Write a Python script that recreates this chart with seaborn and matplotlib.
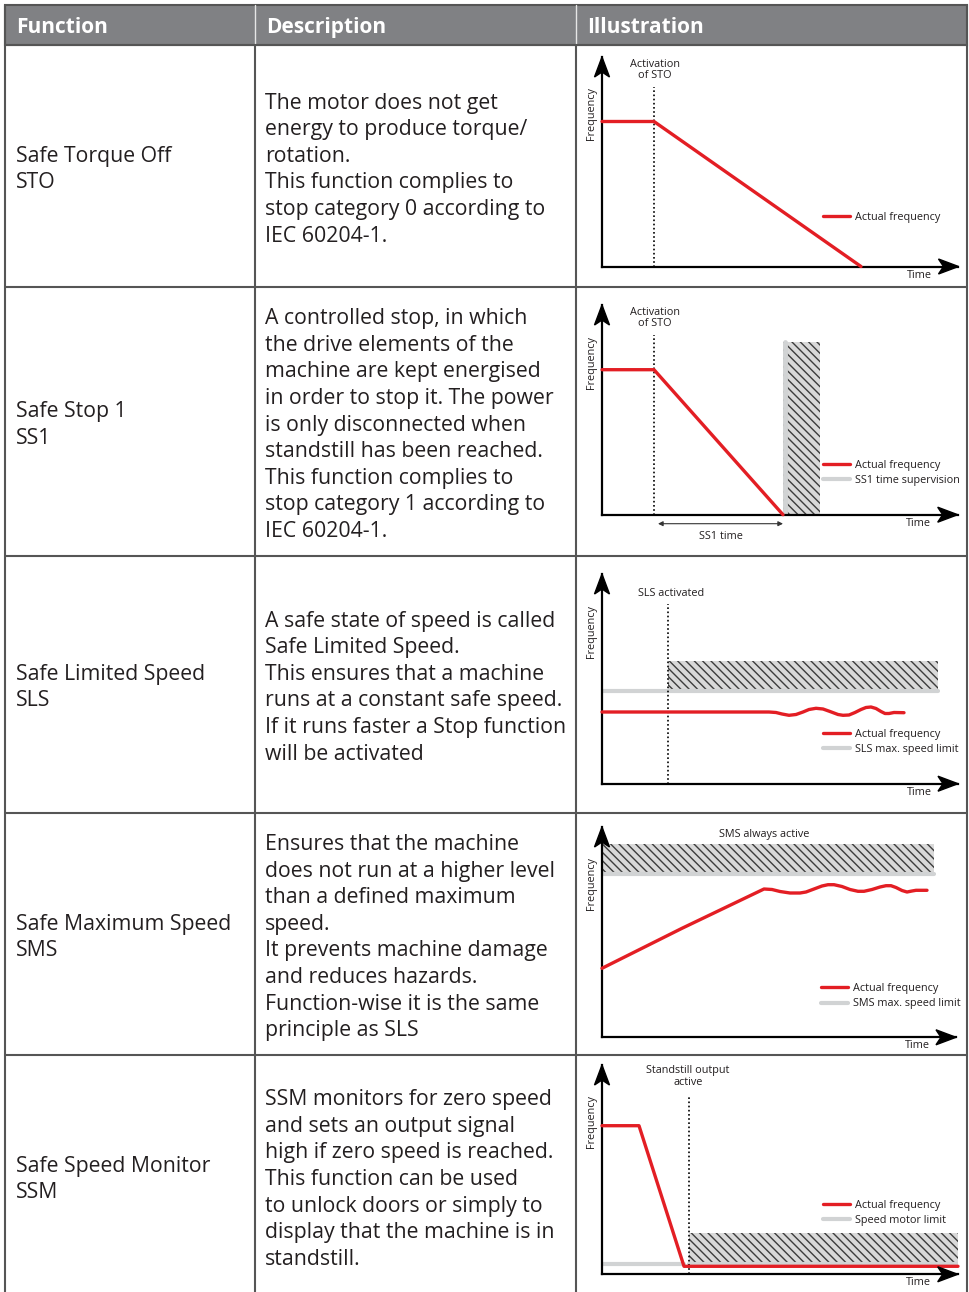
import matplotlib
matplotlib.use("Agg")
import matplotlib.pyplot as plt
import matplotlib.patches as mpatches
from matplotlib.lines import Line2D
import seaborn as sns

sns.set_theme(style="white")
plt.rcParams["font.family"] = ["Open Sans", "DejaVu Sans"]
plt.rcParams["hatch.linewidth"] = 1.0

# ---- table content ----
headers = ["Function", "Description", "Illustration"]
functions = [
    "Safe Torque Off\nSTO",
    "Safe Stop 1\nSS1",
    "Safe Limited Speed\nSLS",
    "Safe Maximum Speed\nSMS",
    "Safe Speed Monitor\nSSM",
]
descriptions = [
    "The motor does not get\nenergy to produce torque/\nrotation.\nThis function complies to\n"
    "stop category 0 according to\nIEC 60204-1.",
    "A controlled stop, in which\nthe drive elements of the\nmachine are kept energised\n"
    "in order to stop it. The power\nis only disconnected when\nstandstill has been reached.\n"
    "This function complies to\nstop category 1 according to\nIEC 60204-1.",
    "A safe state of speed is called\nSafe Limited Speed.\nThis ensures that a machine\n"
    "runs at a constant safe speed.\nIf it runs faster a Stop function\nwill be activated",
    "Ensures that the machine\ndoes not run at a higher level\nthan a defined maximum\nspeed.\n"
    "It prevents machine damage\nand reduces hazards.\nFunction-wise it is the same\nprinciple as SLS",
    "SSM monitors for zero speed\nand sets an output signal\nhigh if zero speed is reached.\n"
    "This function can be used\nto unlock doors or simply to\ndisplay that the machine is in\nstandstill.",
]

# ---- illustration data (time / frequency, arbitrary units) ----
sto_t = [0, 52, 259]
sto_f = [145, 145, 0]
sto_activation = 52

ss1_t = [0, 52, 181]
ss1_f = [145, 145, 0]
ss1_activation = 52
ss1_band_t = [181, 218]
ss1_band_top = 173

sls_t = [0, 167, 174, 180, 187, 194, 201, 207, 214, 221, 228, 236, 241, 247,
         253, 259, 264, 269, 274, 279, 283, 287, 292, 302]
sls_f = [71.7, 71.7, 71.2, 69.7, 68.4, 69.2, 71.7, 74.2, 75.4, 74.7, 72.2, 69.2,
         68.4, 68.7, 71.2, 74.2, 76.2, 76.7, 75.2, 72.2, 70.2, 70.2, 71.2, 71.0]
sls_activation = 66
sls_limit = 93
sls_band_top = 123
sls_band_end = 336

sms_t = [0, 80, 162, 170, 178, 188, 198, 204, 212, 220, 226, 232, 240, 248,
         256, 262, 270, 278, 284, 289, 294, 300, 305, 310, 314, 325]
sms_f = [69, 109, 148.3, 147.8, 145.8, 144.3, 144.3, 145.3, 148.3, 151.3, 152.6,
         152.6, 150.8, 147.8, 146.0, 146.0, 147.8, 150.3, 151.6, 151.6, 149.8,
         146.8, 145.3, 146.3, 147.0, 147.0]
sms_limit = 163
sms_band_top = 193
sms_band_end = 332

ssm_t = [0, 37, 82, 356]
ssm_f = [148.6, 148.6, 8, 8]
ssm_activation = 87
ssm_limit = 10.3
ssm_band_top = 41

RED = "#e31e24"
GREY = "#d1d3d4"
TXT = "#231f20"
HATCH_FACE = "#d9d9d9"
HATCH_EDGE = "#3c3c3c"
SMALL = 7.8

FW, FH = 970, 1292
fig = plt.figure(figsize=(FW / 100, FH / 100), dpi=100)

# ---- table frame ----
bg = fig.add_axes([0, 0, 1, 1])
bg.set_xlim(0, FW)
bg.set_ylim(FH, 0)
bg.axis("off")

col_x = [5, 255, 576, 967]
row_y = [45, 287, 556, 813, 1055, 1292]
row_mid = [167, 422.5, 685, 935, 1177]
border = "#555555"

bg.add_patch(mpatches.Rectangle((col_x[0], 5), col_x[-1] - col_x[0], row_y[0] - 5,
                                facecolor="#808184", edgecolor=border, lw=1.5))
for x in col_x[1:-1]:
    bg.plot([x, x], [5, row_y[0]], color="#e6e6e6", lw=1)
    bg.plot([x, x], [row_y[0], FH], color=border, lw=1.5)
for x in [col_x[0], col_x[-1]]:
    bg.plot([x, x], [5, FH], color=border, lw=1.5)
for y in row_y[:-1]:
    bg.plot([col_x[0], col_x[-1]], [y, y], color=border, lw=1.5)

for x, h in zip(col_x[:-1], headers):
    bg.text(x + 11, 33, h, color="white", fontsize=15, fontweight="bold", va="baseline")

LS = 26.6
for mid, func, desc in zip(row_mid, functions, descriptions):
    for col, txt in [(col_x[0] + 11, func), (col_x[1] + 10, desc)]:
        lines = txt.split("\n")
        y0 = mid - (len(lines) - 1) / 2 * LS + 8
        for i, ln in enumerate(lines):
            bg.text(col, y0 + i * LS, ln, color=TXT, fontsize=15.3, va="baseline")


# ---- illustrations ----
def panel(x0, ybot, xtip, ytip):
    W, H = xtip - x0, ybot - ytip
    ax = fig.add_axes([x0 / FW, 1 - ybot / FH, W / FW, H / FH])
    ax.set_xlim(0, W)
    ax.set_ylim(0, H)
    ax.set_facecolor("none")
    for s in ["top", "right"]:
        ax.spines[s].set_visible(False)
    for s in ["left", "bottom"]:
        ax.spines[s].set_color("black")
        ax.spines[s].set_linewidth(1.6)
    ax.set_xticks([])
    ax.set_yticks([])
    ax.add_patch(mpatches.Polygon([(W, 0), (W - 20, 7.5), (W - 15, 0), (W - 20, -7.5)],
                                  closed=True, color="black", clip_on=False, zorder=5))
    ax.add_patch(mpatches.Polygon([(0, H), (-7.5, H - 20), (0, H - 15), (7.5, H - 20)],
                                  closed=True, color="black", clip_on=False, zorder=5))
    ax.text(-11, H - 57, "Frequency", rotation=90, ha="center", va="center",
            fontsize=SMALL, color=TXT)
    ax.text(W - 39, -8.5, "Time", ha="center", va="center", fontsize=SMALL, color=TXT)
    return ax, W, H


def red_line(ax, t, f):
    sns.lineplot(x=t, y=f, ax=ax, color=RED, lw=2.4, sort=False, estimator=None,
                 legend=False, clip_on=False, zorder=4)


def dotted(ax, t, top):
    ax.plot([t, t], [0, top], color="black", lw=1.2, ls=(0, (1, 1.5)), zorder=3)


def band(ax, t0, t1, f0, f1):
    ax.fill_between([t0, t1], [f0, f0], [f1, f1], facecolor=HATCH_FACE,
                    edgecolor=HATCH_EDGE, hatch="\\\\\\\\", lw=0, zorder=1)


def legend(ax, labels, x, ymid):
    handles = [Line2D([], [], color=RED, lw=2.4)]
    if len(labels) > 1:
        handles.append(Line2D([], [], color=GREY, lw=3))
    ax.legend(handles, labels, loc="center left", bbox_to_anchor=(x, ymid),
              bbox_transform=ax.transData, frameon=False, fontsize=SMALL,
              handlelength=2.5, handletextpad=0.45, labelspacing=0.38,
              borderpad=0, borderaxespad=0, labelcolor=TXT)


# STO
ax, W, H = panel(602, 266.5, 958.5, 57)
red_line(ax, sto_t, sto_f)
dotted(ax, sto_activation, 179.5)
ax.text(sto_activation + 1, 196.5, "Activation\nof STO", ha="center", va="center",
        fontsize=SMALL, color=TXT, linespacing=1.1)
legend(ax, ["Actual frequency"], 221, 48.8)

# SS1
ax, W, H = panel(602, 514.7, 957.7, 305)
band(ax, ss1_band_t[0], ss1_band_t[1], 0, ss1_band_top)
ax.plot([ss1_band_t[0] + 2] * 2, [0, ss1_band_top], color=GREY, lw=3.5, zorder=2)
red_line(ax, ss1_t, ss1_f)
dotted(ax, ss1_activation, 179.7)
ax.text(ss1_activation + 1, 196.7, "Activation\nof STO", ha="center", va="center",
        fontsize=SMALL, color=TXT, linespacing=1.1)
ax.annotate("", xy=(ss1_band_t[0], -9), xytext=(ss1_activation + 4, -9),
            arrowprops=dict(arrowstyle="<|-|>", color="#333333", lw=0.8,
                            mutation_scale=7, shrinkA=0, shrinkB=0),
            annotation_clip=False)
ax.text(119, -21.3, "SS1 time", ha="center", va="center", fontsize=SMALL, color=TXT)
legend(ax, ["Actual frequency", "SS1 time supervision"], 221, 42)

# SLS
ax, W, H = panel(602, 783.7, 958, 574)
band(ax, sls_activation, sls_band_end, sls_limit, sls_band_top)
ax.plot([0, sls_band_end], [sls_limit, sls_limit], color=GREY, lw=3, zorder=2)
red_line(ax, sls_t, sls_f)
dotted(ax, sls_activation, 179.7)
ax.text(69, 190, "SLS activated", ha="center", va="center", fontsize=SMALL, color=TXT)
legend(ax, ["Actual frequency", "SLS max. speed limit"], 221, 42)

# SMS
ax, W, H = panel(602, 1037.3, 956, 827)
band(ax, 0, sms_band_end, sms_limit, sms_band_top)
ax.plot([0, sms_band_end], [sms_limit, sms_limit], color=GREY, lw=3, zorder=2)
red_line(ax, sms_t, sms_f)
ax.text(162, 202.6, "SMS always active", ha="center", va="center", fontsize=SMALL, color=TXT)
legend(ax, ["Actual frequency", "SMS max. speed limit"], 219, 41)

# SSM
ax, W, H = panel(602, 1274.3, 957.7, 1065)
band(ax, ssm_activation, W, ssm_limit, ssm_band_top)
ax.plot([0, ssm_t[2]], [ssm_limit, ssm_limit], color=GREY, lw=3, zorder=2)
ax.plot([ssm_activation, W], [ssm_limit, ssm_limit], color=GREY, lw=3, zorder=2)
red_line(ax, ssm_t, ssm_f)
dotted(ax, ssm_activation, 179.3)
ax.text(85.7, 197.5, "Standstill output\nactive", ha="center", va="center",
        fontsize=SMALL, color=TXT, linespacing=1.1)
legend(ax, ["Actual frequency", "Speed motor limit"], 221, 61.5)

fig.savefig("out.png", dpi=100)
